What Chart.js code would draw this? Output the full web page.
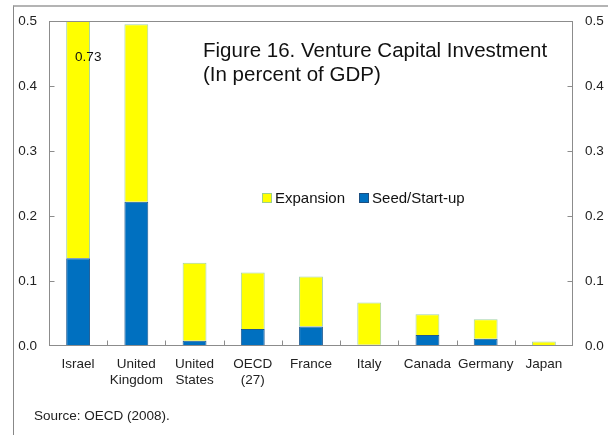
<!DOCTYPE html>
<html>
<head>
<meta charset="utf-8">
<script src="https://cdn.jsdelivr.net/npm/chart.js@4.4.1/dist/chart.umd.min.js"></script>
<style>
  html, body { margin: 0; padding: 0; background: #fff; }
  #wrap { position: relative; width: 608px; height: 435px; overflow: hidden;
          font-family: 'Liberation Sans', Arial, sans-serif; color: #111; }
  #frame { position: absolute; left: 13px; top: 5px; right: -5px; bottom: -5px;
           border-top: 2px solid #b4b4b4; border-left: 1px solid #888; }
  canvas { position: absolute; left: 0; top: 0; }
  #title { position: absolute; left: 203px; top: 38px; font-size: 20.5px; line-height: 24px; white-space: nowrap; }
  #legend { position: absolute; left: 262px; top: 189px; font-size: 15px; line-height: 18px; white-space: nowrap; }
  #legend .sw { display: inline-block; width: 8px; height: 8px; border: 1px solid; vertical-align: 0px; margin-right: 3px; }
  #source { position: absolute; left: 34px; top: 408px; font-size: 13.5px; line-height: 16px; color: #222; }
</style>
</head>
<body>
<div id="wrap">
  <div id="frame"></div>
  <canvas id="vc_chart" width="608" height="435"></canvas>
  <div id="title">Figure 16. Venture Capital Investment<br>(In percent of GDP)</div>
  <div id="legend"><span class="sw" style="background:#ffff00;border-color:#9ccf8c"></span>Expansion<span style="display:inline-block;width:14px"></span><span class="sw" style="background:#0070c0;border-color:#1d4f80"></span>Seed/Start-up</div>
  <div id="source">Source: OECD (2008).</div>
</div>
<script>
// countries, in the order shown
const countries = [['Israel'], ['United', 'Kingdom'], ['United', 'States'], ['OECD', '(27)'],
                   'France', 'Italy', 'Canada', 'Germany', 'Japan'];
// percent of GDP
const seed_startup = [0.135, 0.222, 0.008, 0.026, 0.030, 0.002, 0.017, 0.011, 0.000];
const expansion    = [0.595, 0.273, 0.120, 0.087, 0.077, 0.065, 0.032, 0.030, 0.007];
const y_ticks = [0.0, 0.1, 0.2, 0.3, 0.4, 0.5];
const israel_total = '0.73';

Chart.defaults.font.family = "'Liberation Sans', Arial, sans-serif";
Chart.defaults.font.size = 13.5;
Chart.defaults.color = '#222';

// frame round the plot, inward tick marks, and the off-scale value for Israel
const framePlugin = {
    id: 'framePlugin',
    afterDraw(chart) {
        const ctx = chart.ctx;
        const a = chart.chartArea;
        const l = Math.round(a.left) + 0.5, r = Math.round(a.right) - 0.5;
        const t = Math.round(a.top) + 0.5, b = Math.round(a.bottom) - 0.5;
        ctx.save();
        ctx.strokeStyle = '#8c8c8c';
        ctx.lineWidth = 1;
        ctx.strokeRect(l, t, r - l, b - t);

        ctx.beginPath();
        const ys = chart.scales.y;
        for (var i = 1; i < y_ticks.length - 1; i++) {
            const py = Math.round(ys.getPixelForValue(y_ticks[i])) + 0.5;
            ctx.moveTo(l, py); ctx.lineTo(l + 5, py);
            ctx.moveTo(r, py); ctx.lineTo(r - 5, py);
        }
        const xs = chart.scales.x;
        for (var j = 0; j < countries.length - 1; j++) {
            const px = Math.round((xs.getPixelForValue(j) + xs.getPixelForValue(j + 1)) / 2) + 0.5;
            ctx.moveTo(px, b); ctx.lineTo(px, b - 5);
        }
        ctx.stroke();

        const bar = chart.getDatasetMeta(1).data[0];
        ctx.fillStyle = '#111';
        ctx.font = "13.5px 'Liberation Sans', Arial, sans-serif";
        ctx.textAlign = 'left';
        ctx.textBaseline = 'middle';
        ctx.fillText(israel_total, bar.x - 3, a.top + 36);
        ctx.restore();
    }
};

const datasets = [
    {
        label: 'Seed/Start-up',
        data: seed_startup,
        backgroundColor: '#0070c0',
        borderColor: '#1d5a92',
        borderWidth: 1,
        borderSkipped: 'bottom',
        clip: 0
    },
    {
        label: 'Expansion',
        data: expansion,
        backgroundColor: '#ffff00',
        borderColor: '#a3d3a8',
        borderWidth: 1,
        borderSkipped: 'bottom',
        clip: 0
    }
];

const setup = {
    type: 'bar',
    data: { labels: countries, datasets: datasets },
    options: {
        responsive: false,
        animation: false,
        layout: { padding: { top: 21, left: 0, right: 0, bottom: 0 } },
        datasets: { bar: { barPercentage: 0.41, categoryPercentage: 1.0 } },
        plugins: { legend: { display: false }, tooltip: { enabled: false } },
        scales: {
            x: {
                stacked: true,
                grid: { display: false, drawTicks: false },
                border: { display: false },
                ticks: { padding: 10, maxRotation: 0, autoSkip: false, color: '#222' },
                afterFit(scale) { scale.height = 89; }
            },
            y: {
                stacked: true,
                position: 'left',
                min: 0, max: 0.5,
                grid: { display: false, drawTicks: false },
                border: { display: false },
                ticks: { stepSize: 0.1, padding: 12, callback: v => v.toFixed(1) },
                afterFit(scale) { scale.width = 49; }
            },
            y2: {
                position: 'right',
                min: 0, max: 0.5,
                grid: { display: false, drawTicks: false },
                border: { display: false },
                ticks: { stepSize: 0.1, padding: 12, callback: v => v.toFixed(1) },
                afterFit(scale) { scale.width = 35; }
            }
        }
    },
    plugins: [framePlugin]
};

new Chart(document.getElementById('vc_chart'), setup);
</script>
</body>
</html>
